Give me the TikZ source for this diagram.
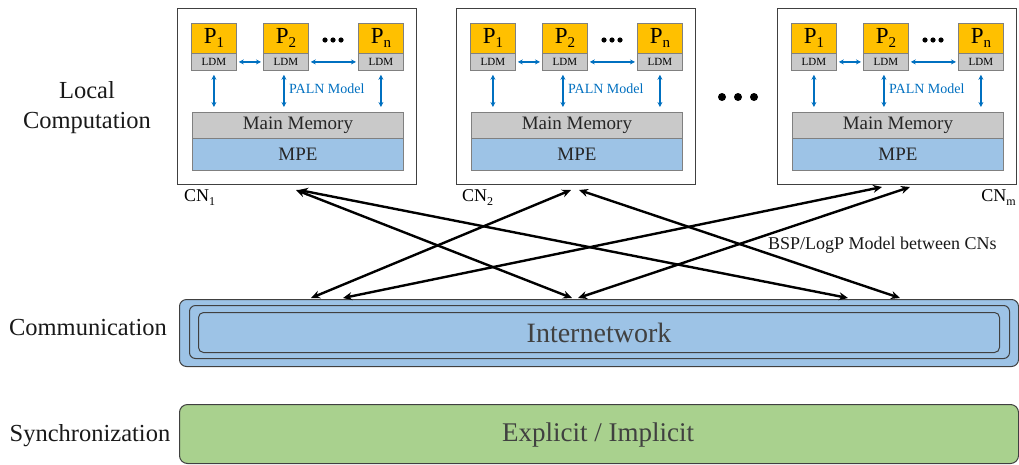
\documentclass[tikz,border=0pt]{standalone}
\usepackage{fontspec}
\setmainfont{Liberation Serif}
\usetikzlibrary{arrows.meta,calc}
\definecolor{porange}{HTML}{FFC000}
\definecolor{lgray}{HTML}{C9C9C9}
\definecolor{mblue}{HTML}{9DC3E6}
\definecolor{sgreen}{HTML}{A9D18E}
\definecolor{ablue}{HTML}{0070C0}
\definecolor{bord}{HTML}{404040}
\definecolor{txtgray}{HTML}{404040}
\newcommand\mysub[2]{#1\raisebox{-0.22em}{\fontsize{#2}{#2}\selectfont}}
\newcommand\psub[1]{P\raisebox{-4pt}{\fontsize{15}{15}\selectfont #1}}
\newcommand\cnsub[1]{CN\raisebox{-4pt}{\fontsize{12}{12}\selectfont #1}}
\tikzset{
  cnbox/.style={draw=bord, line width=1.2pt, fill=white, anchor=north west, inner sep=0pt, minimum width=239pt, minimum height=176pt},
  pbox/.style={draw=gray, line width=0.8pt, fill=porange, anchor=north west, inner sep=0pt, minimum width=45pt, minimum height=30pt, font=\fontsize{23}{23}\selectfont},
  ldmbox/.style={draw=gray, line width=0.8pt, fill=lgray, anchor=north west, inner sep=0pt, minimum width=45pt, minimum height=17pt, font=\fontsize{11}{11}\selectfont},
  mmbox/.style={draw=gray, line width=0.8pt, fill=lgray, anchor=north west, inner sep=0pt, minimum width=211pt, minimum height=26pt, font=\fontsize{19}{19}\selectfont, text=black!85},
  mpebox/.style={draw=gray, line width=0.8pt, fill=mblue, anchor=north west, inner sep=0pt, minimum width=211pt, minimum height=32pt, font=\fontsize{19}{19}\selectfont, text=black!85},
  barrow/.style={ablue, line width=1.4pt, {Stealth[length=5pt,width=5pt]}-{Stealth[length=5pt,width=5pt]}},
  karrow/.style={black, line width=2.4pt, {Stealth[length=9pt,width=8pt]}-{Stealth[length=9pt,width=8pt]}},
  sidelabel/.style={align=center, font=\fontsize{24.5}{30}\selectfont, text=black!90},
  bigtext/.style={font=\fontsize{28}{28}\selectfont, text=txtgray}
}
\begin{document}
\begin{tikzpicture}[x=1pt,y=-1pt]
\useasboundingbox (0,0) rectangle (1019,464);

% side labels
\node[sidelabel] (lc) at (87,108) {Local\\Computation};
\node[sidelabel] (comm) at (88,328) {Communication};
\node[sidelabel] (sync) at (90,436) {Synchronization};

% compute nodes
\foreach \i/\dx in {1/0,2/279,m/600}{
\begin{scope}[xshift=\dx pt]
  \node[cnbox] (cn\i) at (177,8) {};
  \node[pbox] (pa\i) at (191,23) {\psub{1}};
  \node[ldmbox] (la\i) at (191,53) {LDM};
  \node[pbox] (pb\i) at (263,23) {\psub{2}};
  \node[ldmbox] (lb\i) at (263,53) {LDM};
  \node[pbox] (pc\i) at (358,23) {\psub{n}};
  \node[ldmbox] (lc\i) at (358,53) {LDM};
  \fill (325,40) circle (2.6pt) (333,40) circle (2.6pt) (341,40) circle (2.6pt);
  \node[mmbox] (mm\i) at (192,112) {Main Memory};
  \node[mpebox] (mpe\i) at (192,138) {MPE};
  \draw[barrow] ([xshift=2pt]la\i.east) -- ([xshift=-2pt]lb\i.west);
  \draw[barrow] ([xshift=2pt]lb\i.east) -- ([xshift=-2pt]lc\i.west);
  \draw[barrow, shorten <=4pt, shorten >=5pt] (la\i.south) -- (la\i.south |- mm\i.north);
  \draw[barrow, shorten <=4pt, shorten >=5pt] ([xshift=-2pt]lb\i.south) -- ([xshift=-2pt]lb\i.south |- mm\i.north);
  \draw[barrow, shorten <=4pt, shorten >=5pt] (lc\i.south) -- (lc\i.south |- mm\i.north);
  \node[anchor=west, text=ablue, font=\fontsize{14}{14}\selectfont, inner sep=0pt] (paln\i) at (289,89) {PALN Model};
\end{scope}
}

% CN labels
\node[anchor=west, font=\fontsize{18}{18}\selectfont, inner sep=0pt] (cnl1) at (184,198) {\cnsub{1}};
\node[anchor=west, font=\fontsize{18}{18}\selectfont, inner sep=0pt] (cnl2) at (462,198) {\cnsub{2}};
\node[anchor=east, font=\fontsize{18}{18}\selectfont, inner sep=0pt] (cnlm) at (1016,198) {\cnsub{m}};

% big dots
\fill (722,97) circle (4pt) (738,97) circle (4pt) (754,97) circle (4pt);

% internetwork
\node[draw=bord, line width=1pt, fill=mblue, rounded corners=7pt, anchor=north west, minimum width=839pt, minimum height=67pt, inner sep=0pt] (net) at (179,299) {};
\node[draw=bord, line width=1pt, rounded corners=6pt, anchor=north west, minimum width=820pt, minimum height=53pt, inner sep=0pt] (net2) at (189,305) {};
\node[draw=bord, line width=1pt, rounded corners=5pt, anchor=north west, minimum width=801pt, minimum height=40pt, inner sep=0pt] (net3) at (198,312) {};
\node[bigtext] (nettxt) at (net3.center) {Internetwork};

% synchronization
\node[draw=bord, line width=1pt, fill=sgreen, rounded corners=8pt, anchor=north west, minimum width=839pt, minimum height=59pt, inner sep=0pt] (syncbox) at (179,404) {};
\node[bigtext, font=\fontsize{27}{27}\selectfont] (synctxt) at (598,435) {Explicit / Implicit};

% BSP label
\node[anchor=west, font=\fontsize{18}{18}\selectfont, inner sep=0pt, text=black!90] (bsp) at (768,245) {BSP/LogP Model between CNs};

% arrow ends
\coordinate (t1a) at (296,190);
\coordinate (t1b) at (299,190);
\coordinate (t2a) at (571,190);
\coordinate (t2b) at (579,190);
\coordinate (tma) at (882,187);
\coordinate (tmb) at (910,187);
\coordinate (b1) at (311,298);
\coordinate (b2) at (343,298);
\coordinate (b3) at (572,298);
\coordinate (b4) at (578,298);
\coordinate (b5) at (848,298);
\coordinate (b6) at (900,298);

\draw[karrow] (t1a) -- (b3);
\draw[karrow] (t1b) -- (b5);
\draw[karrow] (t2a) -- (b1);
\draw[karrow] (t2b) -- (b6);
\draw[karrow] (tma) -- (b2);
\draw[karrow] (tmb) -- (b4);
\end{tikzpicture}
\end{document}
